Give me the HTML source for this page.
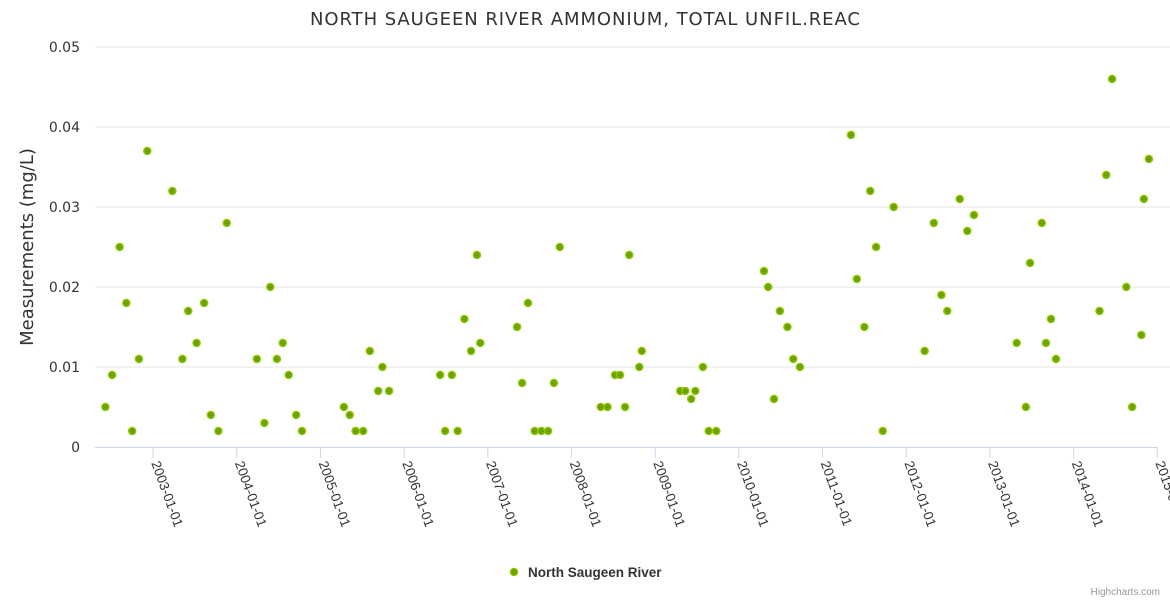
<!DOCTYPE html>
<html><head><meta charset="utf-8"><style>
body{margin:0;background:#fff;}
svg{display:block;font-family:"Liberation Sans",sans-serif;}
.dv{font-family:"DejaVu Sans","Liberation Sans",sans-serif;}
</style></head><body>
<svg id="chart" width="1170" height="600">
<text class="dv" x="310" y="25" textLength="550" lengthAdjust="spacing" font-size="18" fill="#333">NORTH SAUGEEN RIVER AMMONIUM, TOTAL UNFIL.REAC</text>
<text class="dv" transform="translate(33,247) rotate(-90)" text-anchor="middle" font-size="18" fill="#333">Measurements (mg/L)</text>
<g id="grid"></g><g id="xaxis"></g><g id="pts"></g>
<g>
<circle cx="514" cy="572" r="3.5" fill="#6aa000" stroke="#8fc400" stroke-width="1.5"/>
<text x="528" y="577" font-size="13.5" font-weight="bold" fill="#333">North Saugeen River</text>
</g>
<text x="1160" y="595" text-anchor="end" font-size="10" fill="#999">Highcharts.com</text>
</svg>
<script>
const years=[2002.43,2002.51,2002.60,2002.68,2002.75,2002.83,2002.93,2003.23,2003.35,2003.42,2003.52,2003.61,2003.69,2003.78,2003.88,2004.24,2004.33,2004.40,2004.48,2004.55,2004.62,2004.71,2004.78,2005.28,2005.35,2005.42,2005.51,2005.59,2005.69,2005.74,2005.82,2006.43,2006.49,2006.57,2006.64,2006.72,2006.80,2006.87,2006.91,2007.35,2007.41,2007.48,2007.56,2007.64,2007.72,2007.79,2007.86,2008.35,2008.43,2008.52,2008.58,2008.64,2008.69,2008.81,2008.84,2009.30,2009.36,2009.43,2009.48,2009.57,2009.64,2009.73,2010.30,2010.35,2010.42,2010.49,2010.58,2010.65,2010.73,2011.34,2011.41,2011.50,2011.57,2011.64,2011.72,2011.85,2012.22,2012.33,2012.42,2012.49,2012.64,2012.73,2012.81,2013.32,2013.43,2013.48,2013.62,2013.67,2013.73,2013.79,2014.31,2014.39,2014.46,2014.63,2014.70,2014.81,2014.84,2014.90];
const values=[0.005,0.009,0.025,0.018,0.002,0.011,0.037,0.032,0.011,0.017,0.013,0.018,0.004,0.002,0.028,0.011,0.003,0.020,0.011,0.013,0.009,0.004,0.002,0.005,0.004,0.002,0.002,0.012,0.007,0.010,0.007,0.009,0.002,0.009,0.002,0.016,0.012,0.024,0.013,0.015,0.008,0.018,0.002,0.002,0.002,0.008,0.025,0.005,0.005,0.009,0.009,0.005,0.024,0.010,0.012,0.007,0.007,0.006,0.007,0.010,0.002,0.002,0.022,0.020,0.006,0.017,0.015,0.011,0.010,0.039,0.021,0.015,0.032,0.025,0.002,0.030,0.012,0.028,0.019,0.017,0.031,0.027,0.029,0.013,0.005,0.023,0.028,0.013,0.016,0.011,0.017,0.034,0.046,0.020,0.005,0.014,0.031,0.036];
const yTicks=[0,0.01,0.02,0.03,0.04,0.05];
const yTickLabels=["0","0.01","0.02","0.03","0.04","0.05"];
const xTicks=[2003,2004,2005,2006,2007,2008,2009,2010,2011,2012,2013,2014,2015];
const xTickLabels=["2003-01-01","2004-01-01","2005-01-01","2006-01-01","2007-01-01","2008-01-01","2009-01-01","2010-01-01","2011-01-01","2012-01-01","2013-01-01","2014-01-01","2015-01-01"];
const NS="http://www.w3.org/2000/svg";
const xs=v=>153.1+(v-2003)*83.68;
const ys=v=>447-v*8000;
function mk(tag,attrs,parent){const e=document.createElementNS(NS,tag);for(const k in attrs)e.setAttribute(k,attrs[k]);parent.appendChild(e);return e;}
const grid=document.getElementById('grid'),xa=document.getElementById('xaxis'),pts=document.getElementById('pts');
yTicks.forEach((t,i)=>{
  if(i>0){const l=mk('line',{x1:95,x2:1170,y1:ys(t),y2:ys(t),stroke:'#e6e6e6'},grid);
  
  }
  const tx=mk('text',{x:80,y:ys(t)+5,'text-anchor':'end','font-size':14,fill:'#333','class':'dv'},grid);
  tx.textContent=yTickLabels[i];
  
  
});
const ax=mk('line',{x1:95,x2:1158,y1:447.5,y2:447.5,stroke:'#ccd6eb'},xa);


xTicks.forEach((t,i)=>{
  const x=xs(t);
  const tk=mk('line',{x1:x,x2:x,y1:447,y2:458,stroke:'#ccd6eb'},xa);
  
  
  const tx=mk('text',{x:x-2,y:463,'font-size':13.5,fill:'#333',transform:`rotate(70 ${x-2} 463)`},xa);
  tx.textContent=xTickLabels[i];
  
  
});
years.forEach((yr,i)=>{
  const c=mk('circle',{cx:xs(yr),cy:ys(values[i]),r:3.5,fill:'#6aa000',stroke:'#8fc400','stroke-width':1.5},pts);
  
  
});
</script>
</body></html>
